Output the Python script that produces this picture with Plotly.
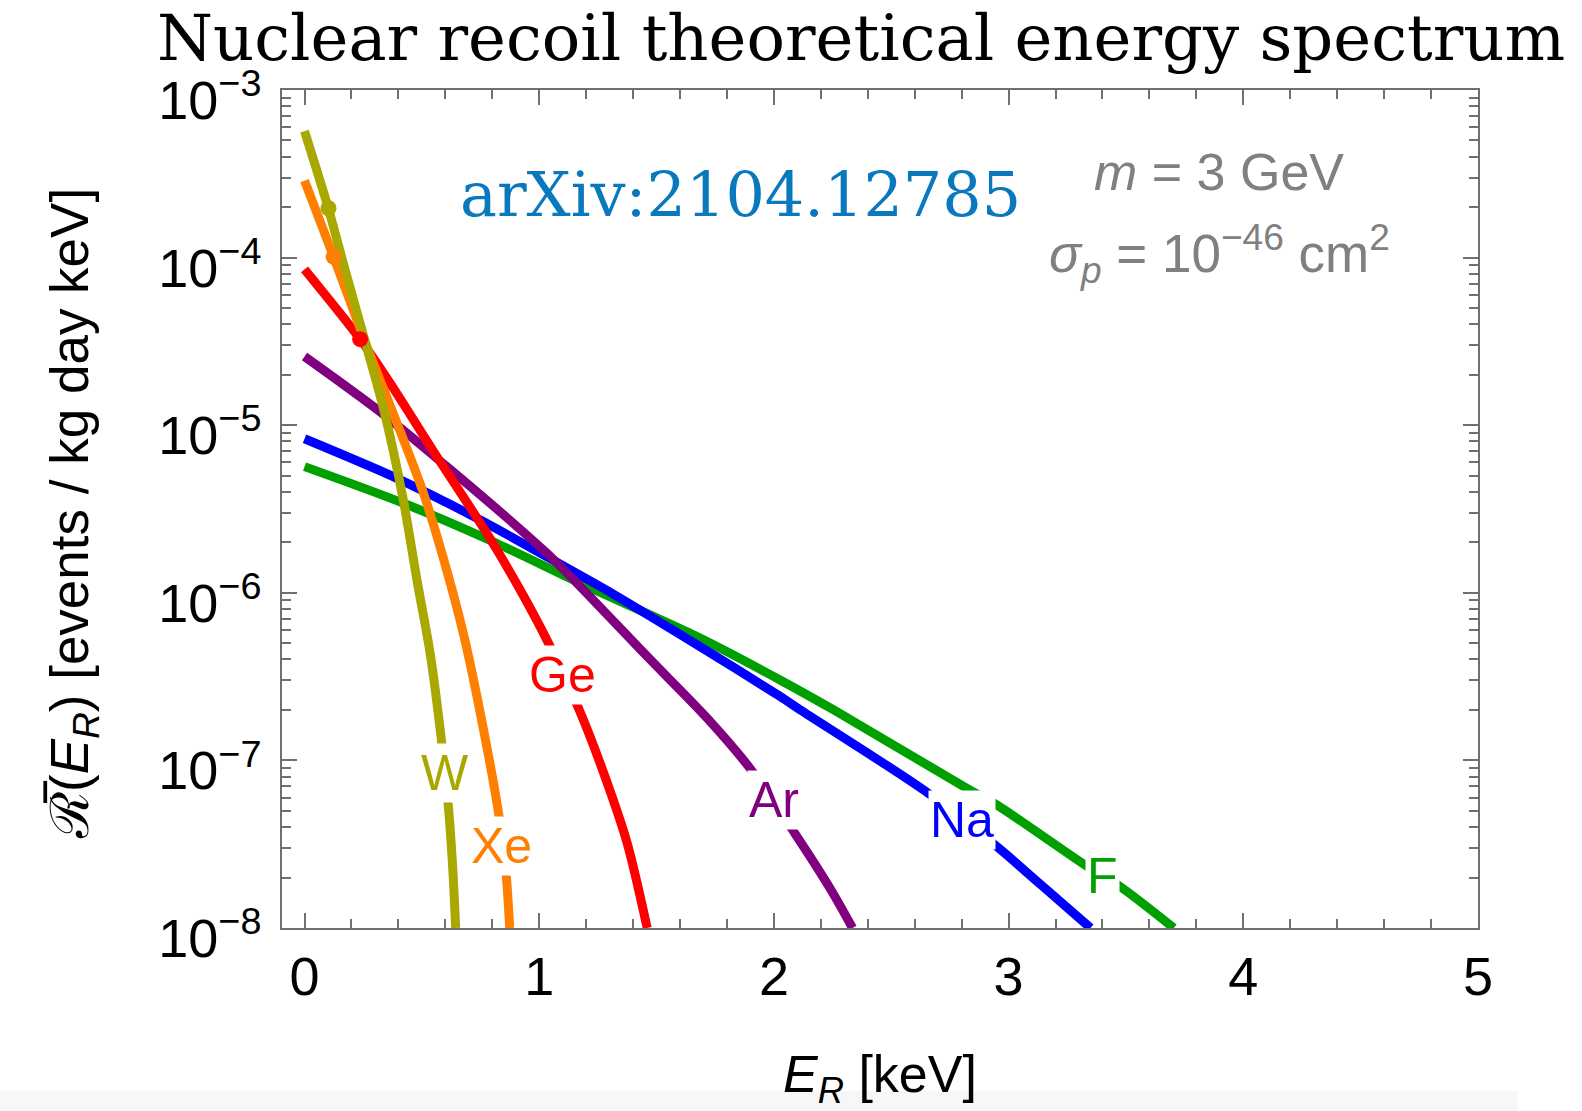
import math
import plotly.graph_objects as go

# Recoil energy E_R [keV] and differential rate [events / kg day keV] per target
E_F = [0.0, 0.422, 0.806, 1.175, 1.687, 2.028, 2.255, 2.824, 2.951, 3.321, 3.477, 3.704]
R_F = [5.66e-6, 3.42e-6, 2.01e-6, 1.14e-6, 5.35e-7, 3.01e-7, 2.00e-7, 6.79e-8, 5.41e-8, 2.40e-8, 1.76e-8, 1.0e-8]

E_Na = [0.0, 0.394, 0.749, 1.033, 1.317, 1.687, 2.028, 2.113, 2.639, 2.951, 3.136, 3.349]
R_Na = [8.3e-6, 4.82e-6, 2.72e-6, 1.64e-6, 9.8e-7, 4.76e-7, 2.40e-7, 2.00e-7, 6.64e-8, 3.05e-8, 1.82e-8, 1.0e-8]

E_Ar = [0.0, 0.323, 0.607, 0.891, 1.033, 1.175, 1.460, 1.710, 1.900, 2.088, 2.244, 2.335]
R_Ar = [2.57e-5, 1.20e-5, 5.65e-6, 2.59e-6, 1.72e-6, 1.09e-6, 4.17e-7, 1.82e-7, 8.9e-8, 3.69e-8, 1.68e-8, 1.0e-8]

E_Ge = [0.0, 0.237, 0.365, 0.564, 0.777, 0.919, 1.033, 1.168, 1.260, 1.374, 1.460]
R_Ge = [8.5e-5, 3.26e-5, 1.78e-5, 6.49e-6, 2.26e-6, 1.04e-6, 5.22e-7, 2.04e-7, 9.57e-8, 3.24e-8, 1.0e-8]

E_Xe = [0.0, 0.124, 0.266, 0.394, 0.507, 0.593, 0.678, 0.749, 0.827, 0.860, 0.874]
R_Xe = [2.88e-4, 1.01e-4, 2.94e-5, 1.03e-5, 3.92e-6, 1.58e-6, 5.62e-7, 1.91e-7, 4.82e-8, 2.01e-8, 1.0e-8]

E_W = [0.0, 0.10, 0.18, 0.26, 0.34, 0.42, 0.48, 0.535, 0.585, 0.614, 0.632, 0.644]
R_W = [5.69e-4, 2.0e-4, 7.76e-5, 3.09e-5, 1.20e-5, 3.63e-6, 1.17e-6, 4.37e-7, 1.26e-7, 5.1e-8, 2.2e-8, 1.0e-8]

# Highlighted points on the W, Xe and Ge spectra
DOT_E = [0.102, 0.124, 0.237]
DOT_R = [1.97e-4, 1.01e-4, 3.26e-5]
DOT_COLORS = ["#A8A800", "#FF8000", "#FF0000"]

# Curve labels: text and anchor position (E, R)
LABELS = ["F", "Na", "Ar", "Ge", "Xe", "W"]
LABEL_E = [3.399, 2.802, 1.999, 1.101, 0.838, 0.600]
LABEL_R = [2.04e-8, 4.40e-8, 5.78e-8, 3.23e-7, 3.08e-8, 8.40e-8]

COLORS = ["#00A000", "#0000FF", "#800080", "#FF0000", "#FF8000", "#A8A800"]
SERIES = [(E_F, R_F), (E_Na, R_Na), (E_Ar, R_Ar), (E_Ge, R_Ge), (E_Xe, R_Xe), (E_W, R_W)]

Y_TICKS = [1e-8, 1e-7, 1e-6, 1e-5, 1e-4, 1e-3]
Y_TICKTEXT = ["10<sup>\u22128</sup>", "10<sup>\u22127</sup>", "10<sup>\u22126</sup>",
              "10<sup>\u22125</sup>", "10<sup>\u22124</sup>", "10<sup>\u22123</sup>"]
X_TICKS = [0, 1, 2, 3, 4, 5]

W_PX, H_PX = 1582, 1111
L, R, T, B = 282, 1478, 90, 928


def px(x, y):
    """Pixel position on the page -> paper coordinates."""
    return (x - L) / (R - L), (B - y) / (B - T)


fig = go.Figure()

for (e, r), name, col in zip(SERIES, LABELS, COLORS):
    fig.add_trace(go.Scatter(x=e, y=r, mode="lines", name=name,
                             line=dict(color=col, width=9, shape="spline", smoothing=0.8),
                             hoverinfo="skip", showlegend=False))

fig.add_trace(go.Scatter(x=DOT_E, y=DOT_R, mode="markers",
                         marker=dict(color=DOT_COLORS, size=16),
                         hoverinfo="skip", showlegend=False))

SANS = "Liberation Sans, Arial, Helvetica, sans-serif"
SERIF = "DejaVu Serif, serif"

annotations = []
for t, e, r, col in zip(LABELS, LABEL_E, LABEL_R, COLORS):
    annotations.append(dict(x=e, y=math.log10(r), xref="x", yref="y",
                            text=t, showarrow=False,
                            font=dict(family=SANS, size=50, color=col),
                            bgcolor="white", borderpad=1,
                            xanchor="center", yanchor="middle"))

tx, ty = px(861, 38)
annotations.append(dict(x=tx, y=ty, xref="paper", yref="paper", showarrow=False,
                        text="Nuclear recoil theoretical energy spectrum",
                        font=dict(family=SERIF, size=64, color="black"),
                        xanchor="center", yanchor="middle"))

ax_, ay_ = px(740, 194)
annotations.append(dict(x=ax_, y=ay_, xref="paper", yref="paper", showarrow=False,
                        text="arXiv:2104.12785",
                        font=dict(family=SERIF, size=62, color="#0A78BC"),
                        xanchor="center", yanchor="middle"))

mx, my = px(1219, 172)
annotations.append(dict(x=mx, y=my, xref="paper", yref="paper", showarrow=False,
                        text="<i>m</i> = 3 GeV",
                        font=dict(family=SANS, size=52, color="#808080"),
                        xanchor="center", yanchor="middle"))
sx, sy = px(1219, 254)
annotations.append(dict(x=sx, y=sy, xref="paper", yref="paper", showarrow=False,
                        text="<i>\u03c3</i><sub><i>p</i></sub> = 10<sup>\u221246</sup> cm<sup>2</sup>",
                        font=dict(family=SANS, size=53, color="#808080"),
                        xanchor="center", yanchor="middle"))

xt, yt = px(880, 1078)
annotations.append(dict(x=xt, y=yt, xref="paper", yref="paper", showarrow=False,
                        text="<i>E</i><sub><i>R</i></sub> [keV]",
                        font=dict(family=SANS, size=52, color="black"),
                        xanchor="center", yanchor="middle"))

yx, yy = px(73, 514)
annotations.append(dict(x=yx, y=yy, xref="paper", yref="paper", showarrow=False,
                        text="\u211b\u0305(<i>E</i><sub><i>R</i></sub>) [events / kg day keV]",
                        font=dict(family=SANS, size=53, color="black"),
                        textangle=-90, xanchor="center", yanchor="middle"))

AXC = "#707070"
fig.update_layout(
    width=W_PX, height=H_PX,
    margin=dict(l=L, r=W_PX - R, t=T, b=H_PX - B, autoexpand=False),
    paper_bgcolor="white", plot_bgcolor="white",
    annotations=annotations,
    shapes=[dict(type="rect", xref="paper", yref="paper",
                 x0=px(0, 0)[0], x1=px(1518, 0)[0], y0=px(0, 1111)[1], y1=px(0, 1091)[1],
                 fillcolor="#F7F7F7", line=dict(width=0), layer="below")],
)

fig.update_xaxes(range=[-0.096, 5.0], showgrid=False, zeroline=False,
                 showline=True, linecolor=AXC, linewidth=1.5, mirror="allticks",
                 ticks="inside", ticklen=15, tickwidth=1.5, tickcolor=AXC,
                 tickvals=X_TICKS, ticktext=[str(v) for v in X_TICKS],
                 tickfont=dict(family=SANS, size=54, color="black"),
                 ticklabelstandoff=0,
                 minor=dict(ticks="inside", ticklen=9, tickwidth=1.5, tickcolor=AXC,
                            tick0=0, dtick=0.2, showgrid=False))

fig.update_yaxes(type="log", range=[-8, -3], showgrid=False, zeroline=False,
                 showline=True, linecolor=AXC, linewidth=1.5, mirror="allticks",
                 ticks="inside", ticklen=15, tickwidth=1.5, tickcolor=AXC,
                 tickvals=Y_TICKS, ticktext=Y_TICKTEXT,
                 tickfont=dict(family=SANS, size=54, color="black"),
                 ticklabelstandoff=8, ticklabelshift=10,
                 minor=dict(ticks="inside", ticklen=9, tickwidth=1.5, tickcolor=AXC,
                            dtick="D1", showgrid=False))

fig.write_html("out.html")
